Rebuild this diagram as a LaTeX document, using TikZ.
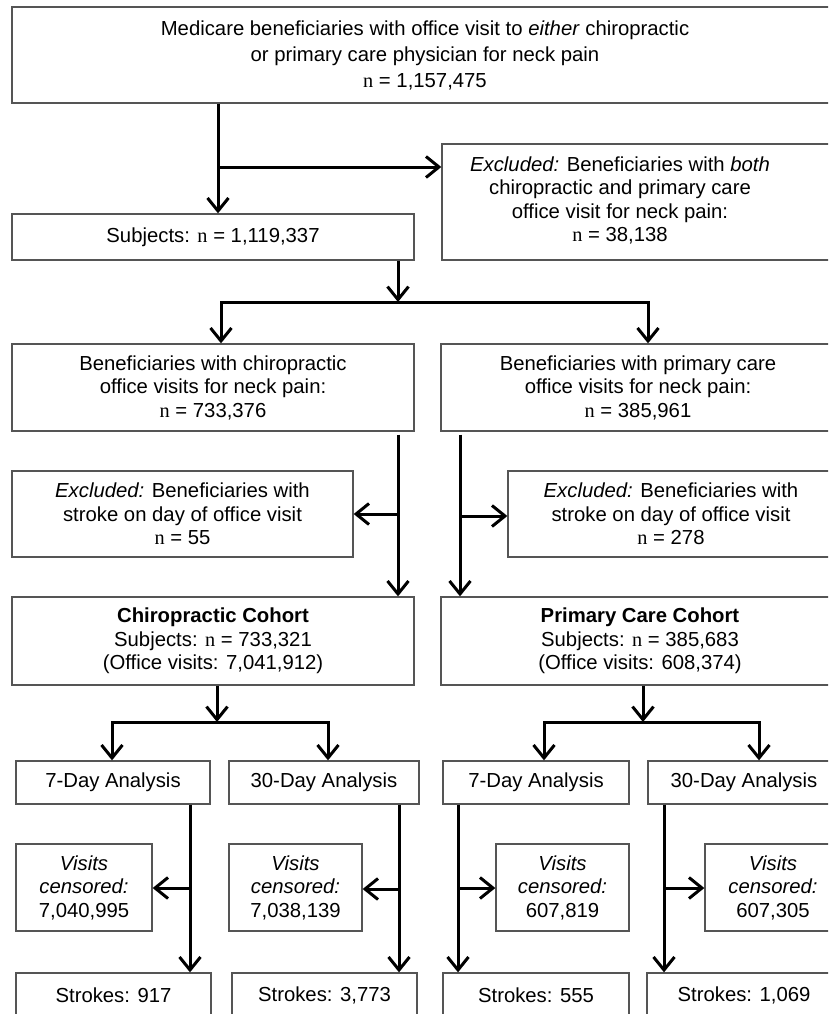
\documentclass[tikz,border=0pt]{standalone}
\usepackage{fontspec}
\setmainfont{Liberation Sans}
\newfontfamily\tmsfont{Liberation Serif}
\usetikzlibrary{arrows.meta}
\newcommand\nn{{\tmsfont n}}
\definecolor{boxgray}{RGB}{85,85,85}
\tikzset{
  box/.style={draw=boxgray, line width=1.3pt, fill=white, inner sep=0pt, align=center,
    font=\fontsize{20.3}{23.5}\selectfont},
  arr/.style={line width=3pt, -{Straight Barb[length=13pt,width=21pt]}},
  ln/.style={line width=3pt},
}
\begin{document}
\begin{tikzpicture}[x=1pt,y=-1pt]
\useasboundingbox (0,0) rectangle (828,1014);
\fill[white] (0,0) rectangle (828,1014);
\clip (0,0) rectangle (828,1014);

% ---- boxes ----
\node[box, minimum width=826, minimum height=96, font=\fontsize{20.3}{26}\selectfont] (top) at (425,55)
  {Medicare beneficiaries with office visit to \textit{either} chiropractic\\or primary care physician for neck pain\\\nn{} = 1,157,475};
\node[box, minimum width=398, minimum height=116] (excl1) at (641,202)
  {\begin{tabular}{@{}c@{}}\textit{Excluded:} Beneficiaries with \textit{both}\\chiropractic and primary care\\office visit for neck pain:\\\nn{} = 38,138\end{tabular}\hspace*{42pt}};
\node[box, minimum width=402, minimum height=46] (subj) at (213,237) {Subjects: \nn{} = 1,119,337};

\node[box, minimum width=402, minimum height=87] (chiro) at (213,387.5)
  {Beneficiaries with chiropractic\\office visits for neck pain:\\\nn{} = 733,376};
\node[box, minimum width=394, minimum height=87] (prim) at (638,387.5)
  {Beneficiaries with primary care\\office visits for neck pain:\\\nn{} = 385,961};

\node[box, minimum width=341, minimum height=86] (ex55) at (182.5,514)
  {\textit{Excluded:} Beneficiaries with\\stroke on day of office visit\\\nn{} = 55};
\node[box, minimum width=326, minimum height=86] (ex278) at (671,514)
  {\textit{Excluded:} Beneficiaries with\\stroke on day of office visit\\\nn{} = 278};

\node[box, minimum width=402, minimum height=88] (coh1) at (213,641)
  {\textbf{Chiropractic Cohort}\\Subjects: \nn{} = 733,321\\(Office visits: 7,041,912)};
\node[box, minimum width=398, minimum height=88] (coh2) at (640,641)
  {\textbf{Primary Care Cohort}\\Subjects: \nn{} = 385,683\\(Office visits: 608,374)};

\node[box, minimum width=194, minimum height=43] (c7) at (113,782.5) {7-Day Analysis};
\node[box, minimum width=190, minimum height=43] (c30) at (324,782.5) {30-Day Analysis};
\node[box, minimum width=186, minimum height=43] (p7) at (536,782.5) {7-Day Analysis};
\node[box, minimum width=192, minimum height=43] (p30) at (744,782.5) {30-Day Analysis};

\node[box, minimum width=136, minimum height=87] (v1) at (84,887.5) {\textit{Visits}\\\textit{censored:}\\7,040,995};
\node[box, minimum width=133, minimum height=87] (v2) at (295.5,887.5) {\textit{Visits}\\\textit{censored:}\\7,038,139};
\node[box, minimum width=133, minimum height=87] (v3) at (562.5,887.5) {\textit{Visits}\\\textit{censored:}\\607,819};
\node[box, minimum width=136, minimum height=87] (v4) at (773,887.5) {\textit{Visits}\\\textit{censored:}\\607,305};

\node[box, minimum width=195, minimum height=44] (s1) at (113.5,995) {Strokes: 917};
\node[box, minimum width=185, minimum height=44] (s2) at (324.5,995) {Strokes: 3,773};
\node[box, minimum width=186, minimum height=44] (s3) at (536,995) {Strokes: 555};
\node[box, minimum width=194, minimum height=44] (s4) at (744,995) {Strokes: 1,069};

% ---- junction coordinates ----
\coordinate (jA) at (218,167);
\coordinate (jB) at (398,302);
\coordinate (bL) at (221,302);
\coordinate (bR) at (648,302);
\coordinate (jC) at (398,514);
\coordinate (jD) at (460,516);
\coordinate (jE) at (217,722);
\coordinate (eL) at (112,722);
\coordinate (eR) at (328,722);
\coordinate (jF) at (643,722);
\coordinate (fL) at (544,722);
\coordinate (fR) at (759,722);
\coordinate (jG) at (190,888);
\coordinate (jH) at (399,889);
\coordinate (jI) at (458,888);
\coordinate (jJ) at (664,888);

% ---- connectors ----
\draw[arr] (top.south -| jA) -- (subj.north -| jA);
\draw[arr] (jA) -- (jA -| excl1.west);

\draw[arr] (subj.south -| jB) -- (jB);
\draw[arr] (jB) -| (chiro.north -| bL);
\draw[arr] (jB) -| (prim.north -| bR);

\draw[arr] ([yshift=-3pt]chiro.south -| jC) -- (coh1.north -| jC);
\draw[arr] (jC) -- (jC -| ex55.east);
\draw[arr] ([yshift=-3pt]prim.south -| jD) -- (coh2.north -| jD);
\draw[arr] (jD) -- (jD -| ex278.west);

\draw[arr] (coh1.south -| jE) -- (jE);
\draw[arr] (jE) -| (c7.north -| eL);
\draw[arr] (jE) -| (c30.north -| eR);
\draw[arr] (coh2.south -| jF) -- (jF);
\draw[arr] (jF) -| (p7.north -| fL);
\draw[arr] (jF) -| (p30.north -| fR);

\draw[arr] (c7.south -| jG) -- (s1.north -| jG);
\draw[arr] (jG) -- (jG -| v1.east);
\draw[arr] (c30.south -| jH) -- (s2.north -| jH);
\draw[arr] (jH) -- (jH -| v2.east);
\draw[arr] (p7.south -| jI) -- (s3.north -| jI);
\draw[arr] (jI) -- (jI -| v3.west);
\draw[arr] (p30.south -| jJ) -- (s4.north -| jJ);
\draw[arr] (jJ) -- (jJ -| v4.west);
\end{tikzpicture}
\end{document}
